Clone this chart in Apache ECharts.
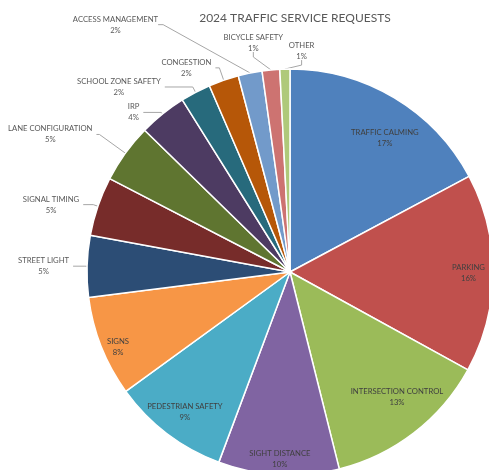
<!DOCTYPE html>
<html><head><meta charset="utf-8">
<script src="https://cdn.jsdelivr.net/npm/echarts@6/dist/echarts.min.js"></script>
<style>html,body{margin:0;padding:0;background:#fff}#c{width:489px;height:470px}</style>
</head><body><div id="c"></div>
<script>
var categories = ['TRAFFIC CALMING','PARKING','INTERSECTION CONTROL','SIGHT DISTANCE','PEDESTRIAN SAFETY','SIGNS','STREET LIGHT','SIGNAL TIMING','LANE CONFIGURATION','IRP','SCHOOL ZONE SAFETY','CONGESTION','ACCESS MANAGEMENT','BICYCLE SAFETY','OTHER'];
var values = [17.2,15.8,13.1,9.6,9.3,8.0,4.9,4.7,4.7,3.8,2.4,2.4,1.9,1.4,0.8];
var colors = ['#4F81BD','#C0504D','#9BBB59','#8064A2','#4BACC6','#F79646','#2C4D75','#772C2A','#5F7530','#4D3B62','#276A7C','#B65708','#729ACA','#CD7371','#AFC97A'];
var insideLabel = [true,true,true,true,true,true,false,false,false,false,false,false,false,false,false];

var FONT = 'Lato';
function fmt(p){ return '{n|' + p.name + '}\n{p|' + Math.round(p.percent) + '%}'; }
var rich = {
  n:{fontFamily:FONT,fontSize:7.7,lineHeight:11,align:'center'},
  p:{fontFamily:FONT,fontSize:7.7,lineHeight:11,align:'center'}
};
// leader-line styling per outside label [length, length2]
var lineStyleBy = {6:[3,11],7:[5,10],8:[32,3],9:[2,18],10:[6,28],11:[13,4],12:[10,5],13:[29,5],14:[20,5]};
// label nudges (style only)
var outsideMove = {12:[-81,-40],13:[24,0],14:[39,0]};
var insideNudge = {0:[3,19],2:[-2,-16],3:[0,9],4:[3,-2],5:[-6,9]};

var mainData = categories.map(function(c,i){
  var d = {name:c,value:values[i],itemStyle:{color:colors[i]},
    label:{show:!insideLabel[i]}, labelLine:{show:!insideLabel[i]}};
  if (lineStyleBy[i]) { d.labelLine.length = lineStyleBy[i][0]; d.labelLine.length2 = lineStyleBy[i][1]; }
  return d;
});
var overlayData = categories.map(function(c,i){
  return {name:c,value:values[i],label:{show:insideLabel[i]}};
});
var chart = echarts.init(document.getElementById('c'));
chart.setOption({
  animation:false,
  title:{text:'2024 TRAFFIC SERVICE REQUESTS',left:290,top:7,textAlign:'center',
    textStyle:{fontFamily:FONT,fontSize:12,fontWeight:'normal',color:'#595959'}},
  series:[{
    type:'pie',center:[290,272],radius:[0,203],startAngle:90,clockwise:true,
    data:mainData,silent:true,avoidLabelOverlap:false,
    itemStyle:{borderColor:'#fff',borderWidth:1.5},
    label:{position:'outside',formatter:fmt,color:'#595959',rich:rich,overflow:'none',distanceToLabelLine:4},
    labelLine:{length:10,length2:12,lineStyle:{color:'#A6A6A6',width:1}},
    labelLayout:function(p){
      var m = outsideMove[p.dataIndex];
      if (!m) return {};
      return {x:p.labelRect.x + m[0], y:p.labelRect.y + m[1], align:'left', verticalAlign:'top'};
    }
  },{
    type:'pie',center:[290,272],radius:[148,203],startAngle:90,clockwise:true,
    data:overlayData,silent:true,
    itemStyle:{color:'rgba(0,0,0,0)',borderWidth:0},
    label:{position:'inside',formatter:fmt,color:'#404040',rich:rich},
    labelLine:{show:false},
    labelLayout:function(p){
      var m = insideNudge[p.dataIndex];
      return m ? {dx:m[0],dy:m[1]} : {};
    }
  }]
});
</script></body></html>
